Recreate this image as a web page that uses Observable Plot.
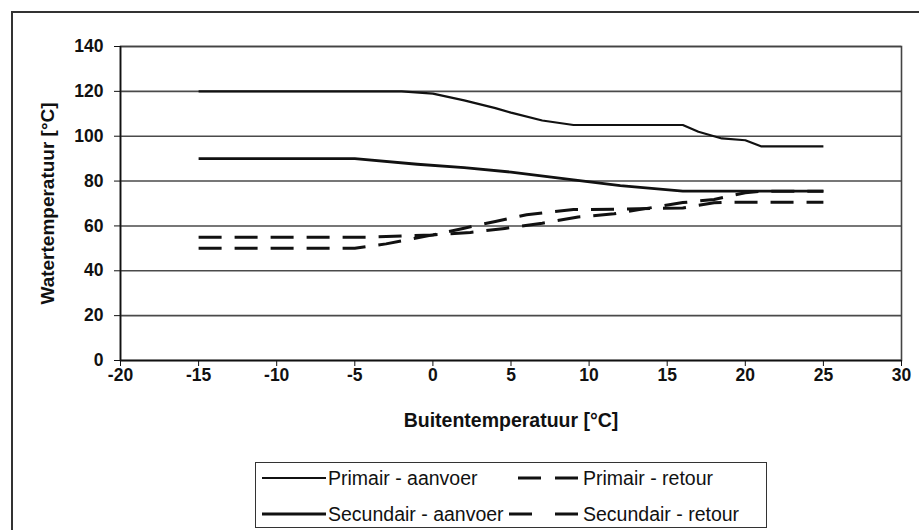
<!DOCTYPE html>
<html>
<head>
<meta charset="utf-8">
<script src="https://cdn.jsdelivr.net/npm/d3@7"></script>
<script src="https://cdn.jsdelivr.net/npm/@observablehq/plot@0.6"></script>
<style>
  html, body { margin: 0; padding: 0; background: #fff; }
  #wrap { position: relative; width: 919px; height: 530px; overflow: hidden; background: #fff;
          font-family: "Liberation Sans", Arial, sans-serif; color: #111; }
  #outer { position: absolute; left: 11px; top: 11px; width: 1000px; height: 1000px;
           border: 2px solid #333; box-sizing: border-box; }
  #chart { position: absolute; left: 0; top: 0; }
  #legend { position: absolute; left: 255px; top: 462px; width: 512px; height: 66px;
            border: 1.5px solid #333; box-sizing: border-box; background: #fff; }
  .sample { position: absolute; display: block; }
  .label { position: absolute; font-size: 19.5px; line-height: 24px; white-space: nowrap; }
</style>
</head>
<body>
<div id="wrap">
  <div id="outer"></div>
  <div id="chart"></div>
  <div id="legend"></div>
</div>
<script>
// ---- data ----
const xTicks = [-20, -15, -10, -5, 0, 5, 10, 15, 20, 25, 30];
const yTicks = [0, 20, 40, 60, 80, 100, 120, 140];

const seriesNames = ["Primair - aanvoer", "Primair - retour", "Secundair - aanvoer", "Secundair - retour"];

const primairAanvoerX = [-15, -2, 0, 2, 4, 5, 7, 9, 16, 17, 18.5, 20, 21, 25];
const primairAanvoerY = [120, 120, 119, 116, 112.5, 110.5, 107, 105, 105, 102, 99, 98.2, 95.5, 95.5];

const primairRetourX = [-15, -5, -3, 0, 2, 4, 6, 9, 12, 16, 18, 19, 25];
const primairRetourY = [50, 50, 52, 56, 59, 62, 65, 67.3, 67.5, 68, 70.3, 70.6, 70.6];

const secundairAanvoerX = [-15, -5, -1, 2, 5, 9, 12, 16, 25];
const secundairAanvoerY = [90, 90, 87.5, 86, 84, 80.5, 78, 75.5, 75.5];

const secundairRetourX = [-15, -4, 0, 2.4, 4.6, 7, 9.3, 11.6, 13.5, 16, 18, 20, 21, 25];
const secundairRetourY = [55, 55, 56, 57.1, 58.9, 61.2, 64, 65.4, 67.6, 70.4, 71.8, 74.8, 75.5, 75.5];

const xTitle = "Buitentemperatuur [°C]";
const yTitle = "Watertemperatuur [°C]";

// ---- build ----
const toRows = (xs, ys) => xs.map((x, i) => ({x, y: ys[i]}));
const styles = {
  "Primair - aanvoer":   {strokeWidth: 2.2, dash: null},
  "Primair - retour":    {strokeWidth: 3, dash: "23,13"},
  "Secundair - aanvoer": {strokeWidth: 2.8, dash: null},
  "Secundair - retour":  {strokeWidth: 3, dash: "23,13"}
};
const seriesData = {
  "Primair - aanvoer": toRows(primairAanvoerX, primairAanvoerY),
  "Primair - retour": toRows(primairRetourX, primairRetourY),
  "Secundair - aanvoer": toRows(secundairAanvoerX, secundairAanvoerY),
  "Secundair - retour": toRows(secundairRetourX, secundairRetourY)
};

const lineMarks = seriesNames.map(name => Plot.line(seriesData[name], {
  x: "x", y: "y", stroke: "#111", strokeWidth: styles[name].strokeWidth,
  strokeDasharray: styles[name].dash || undefined, strokeLinejoin: "round", strokeLinecap: "butt"
}));

const chart = Plot.plot({
  width: 919, height: 450,
  marginLeft: 120, marginRight: 18, marginTop: 46, marginBottom: 90,
  style: {fontFamily: "'Liberation Sans', Arial, sans-serif", fontSize: "17px", background: "transparent", color: "#111", overflow: "visible"},
  x: {domain: [-20, 30]},
  y: {domain: [0, 140]},
  marks: [
    Plot.gridY(yTicks, {stroke: "#4a4a4a", strokeOpacity: 1, strokeWidth: 1.6}),
    Plot.frame({stroke: "#444", strokeWidth: 1.6}),
    Plot.ruleX([-20], {stroke: "#111", strokeWidth: 1.6}),
    Plot.ruleY([0], {stroke: "#111", strokeWidth: 1.6}),
    Plot.axisX({ticks: xTicks, tickFormat: d => String(d), tickSize: 6, tickPadding: 2, label: null, fontSize: 17.5, fontWeight: "bold", stroke: "#111"}),
    Plot.axisY({ticks: yTicks, tickFormat: d => String(d), tickSize: 6, tickPadding: 11, label: null, fontSize: 17.5, fontWeight: "bold", stroke: "#111"}),
    ...lineMarks,
    Plot.text([xTitle], {text: d => d, frameAnchor: "bottom", dy: 66, fontWeight: "bold", fontSize: 19.5, fill: "#111"}),
    Plot.text([yTitle], {text: d => d, frameAnchor: "left", dx: -73, rotate: -90, textAnchor: "middle", fontWeight: "bold", fontSize: 19, fill: "#111"})
  ]
});
document.getElementById("chart").appendChild(chart);

// ---- legend ----
const legend = document.getElementById("legend");
// sample start/end and label left, in legend-box pixels; row centre y
const layout = {
  "Primair - aanvoer":   {x0: 6,   x1: 70,  tx: 72,  cy: 15},
  "Primair - retour":    {x0: 262, x1: 322, tx: 327, cy: 15},
  "Secundair - aanvoer": {x0: 6,   x1: 70,  tx: 72,  cy: 51},
  "Secundair - retour":  {x0: 253, x1: 322, tx: 327, cy: 51}
};
seriesNames.forEach(name => {
  const s = styles[name], p = layout[name];
  const w = p.x1 - p.x0;
  const svg = d3.create("svg").attr("class", "sample").attr("width", w).attr("height", 10)
    .style("left", p.x0 + "px").style("top", (p.cy - 5) + "px");
  let dash = null;
  if (s.dash) {
    const seg = 23, gap = w - 2 * seg;
    dash = seg + "," + gap;
  }
  svg.append("line").attr("x1", 0).attr("x2", w).attr("y1", 5).attr("y2", 5)
    .attr("stroke", "#111").attr("stroke-width", s.strokeWidth)
    .attr("stroke-dasharray", dash);
  legend.appendChild(svg.node());
  const span = document.createElement("div");
  span.className = "label";
  span.textContent = name;
  span.style.left = p.tx + "px";
  span.style.top = (p.cy - 12) + "px";
  legend.appendChild(span);
});
</script>
</body>
</html>
